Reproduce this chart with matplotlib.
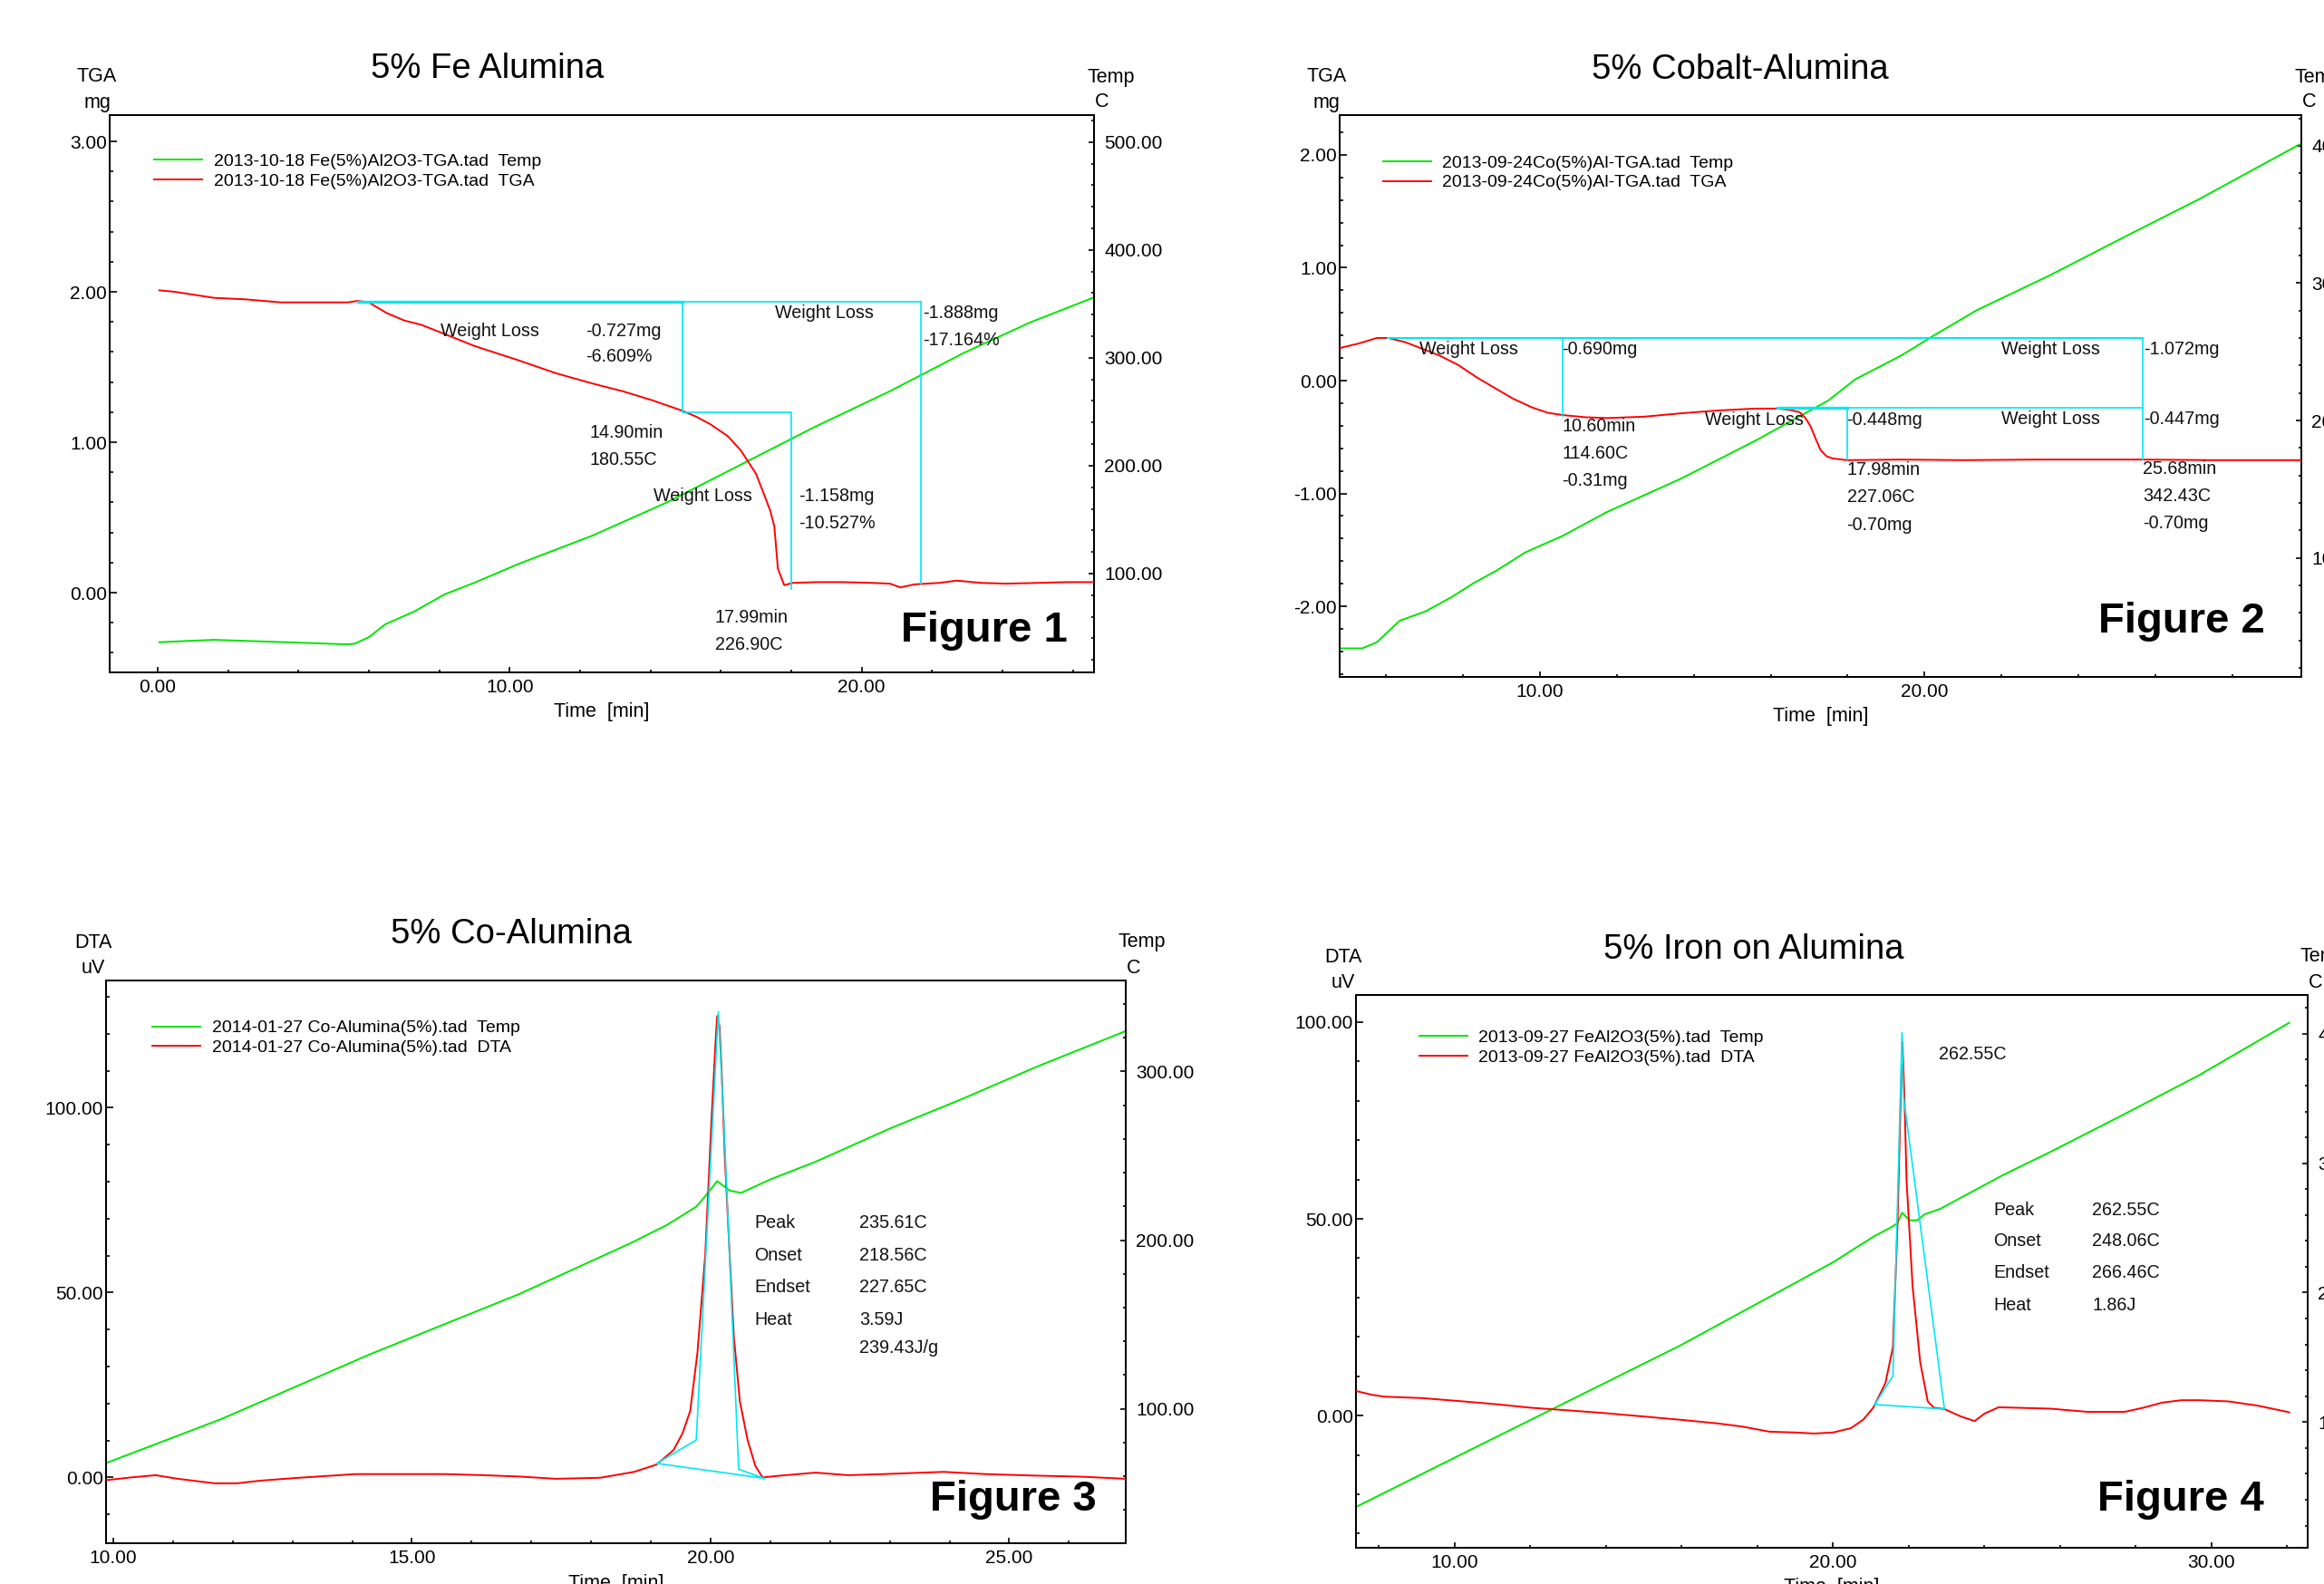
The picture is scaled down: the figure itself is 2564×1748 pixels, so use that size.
import matplotlib
matplotlib.use("Agg")
import matplotlib.pyplot as plt
from matplotlib.ticker import FixedLocator, MultipleLocator, FormatStrFormatter

plt.rcParams['font.family'] = ['Liberation Sans', 'DejaVu Sans']

W, H = 2564, 1748
GREEN = '#00e600'
RED = '#ff0000'
CYAN = '#00e8f0'
TXT = '#111111'

# ---------------- Panel 1 : 5% Fe Alumina (TGA) ----------------
p1_tga_t = [0.05, 0.5, 1.6, 2.5, 3.5, 4.5, 5.4, 5.7, 6.0, 6.5, 7.0, 7.5, 8.15, 9.0, 10.25,
            11.3, 12.36, 13.2, 14.04, 14.9, 15.3, 15.7, 16.2, 16.57, 17.0, 17.25, 17.41,
            17.52, 17.62, 17.8, 18.05, 18.7, 19.5, 20.3, 20.8, 21.1, 21.5, 22.2, 22.7,
            23.4, 24.1, 25.0, 25.8, 26.6]
p1_tga_mg = [2.01, 2.00, 1.96, 1.95, 1.93, 1.93, 1.93, 1.94, 1.93, 1.86, 1.81, 1.78, 1.72,
             1.64, 1.545, 1.46, 1.39, 1.34, 1.28, 1.21, 1.17, 1.12, 1.04, 0.945, 0.79,
             0.64, 0.54, 0.44, 0.16, 0.05, 0.065, 0.07, 0.07, 0.065, 0.06, 0.035, 0.055,
             0.065, 0.08, 0.065, 0.06, 0.065, 0.07, 0.07]
p1_temp_t = [0.05, 1.6, 3.5, 5.4, 5.6, 6.0, 6.47, 7.3, 8.15, 9.0, 10.25, 12.36, 14.47,
             16.57, 18.67, 20.8, 22.9, 24.8, 26.6]
p1_temp_c = [36.4, 38.6, 36.5, 34.4, 35.0, 41.0, 53.0, 65.0, 80.7, 91.5, 108.9, 135.3,
             166.0, 201.0, 236.0, 269.0, 304.5, 333.0, 356.0]
p1_steps_t = [5.7, 14.9, 18.0, 21.68]       # analysis step times
p1_steps_mg = [1.935, 1.20, 0.024, 0.06]    # analysis levels

# ---------------- Panel 2 : 5% Cobalt-Alumina (TGA) ----------------
p2_tga_t = [4.79, 4.86, 5.3, 5.76, 6.05, 6.5, 6.91, 7.4, 7.87, 8.35, 8.85, 9.3, 9.8, 10.2,
            10.6, 11.2, 11.75, 12.7, 13.7, 14.62, 15.6, 16.17, 16.5, 16.75, 16.9, 17.04,
            17.15, 17.3, 17.45, 17.61, 17.98, 19.4, 21.0, 22.9, 25.7, 27.5, 29.8]
p2_tga_mg = [0.285, 0.294, 0.33, 0.378, 0.378, 0.34, 0.286, 0.22, 0.139, 0.03, -0.071,
             -0.16, -0.239, -0.285, -0.306, -0.325, -0.332, -0.32, -0.289, -0.265, -0.248,
             -0.248, -0.26, -0.28, -0.33, -0.407, -0.50, -0.617, -0.67, -0.69, -0.705,
             -0.70, -0.705, -0.70, -0.70, -0.705, -0.705]
p2_temp_t = [4.79, 5.38, 5.76, 6.35, 7.02, 7.7, 8.28, 8.85, 9.62, 10.59, 11.75, 13.67,
             15.6, 17.5, 18.2, 19.4, 20.2, 21.35, 23.28, 25.2, 27.15, 29.75]
p2_temp_c = [34.1, 34.1, 38.6, 54.2, 61.0, 71.4, 81.7, 90.4, 104.0, 116.0, 133.5, 157.7,
             185.3, 214.6, 230.0, 247.4, 261.2, 280.2, 306.0, 333.7, 361.3, 401.0]
p2_steps_t = [6.05, 10.6, 16.17, 17.98, 25.68]
p2_steps_mg = [0.378, -0.315, -0.239, -0.70]

# ---------------- Panel 3 : 5% Co-Alumina (DTA) ----------------
p3_dta_t = [9.88, 10.3, 10.71, 11.08, 11.7, 12.07, 12.45, 13.06, 14.06, 15.55, 16.2, 16.79,
            17.41, 18.15, 18.72, 19.1, 19.38, 19.53, 19.66, 19.78, 19.91, 20.01, 20.08,
            20.11, 20.15, 20.19, 20.24, 20.32, 20.39, 20.49, 20.62, 20.75, 20.87, 21.15,
            21.76, 22.3, 22.9, 23.9, 24.6, 25.4, 26.2, 26.95]
p3_dta_uv = [-0.75, 0.0, 0.6, -0.37, -1.6, -1.6, -0.9, -0.15, 0.9, 0.9, 0.6, 0.24, -0.37,
             -0.1, 1.5, 3.5, 7.4, 11.9, 18.0, 33.7, 60.0, 95.0, 116.9, 124.8, 122.0, 108.0,
             86.2, 60.0, 38.0, 20.6, 10.1, 3.1, 0.0, 0.45, 1.3, 0.6, 0.9, 1.5, 0.9, 0.5,
             0.2, -0.37]
p3_temp_t = [9.9, 11.82, 14.3, 16.79, 18.65, 19.27, 19.76, 19.94, 20.11, 20.32, 20.51,
             21.0, 21.76, 22.99, 24.23, 25.47, 26.95]
p3_temp_c = [68.0, 94.0, 132.3, 167.9, 198.0, 209.0, 219.8, 227.3, 235.0, 229.4, 228.0,
             236.0, 246.5, 266.0, 284.0, 303.0, 324.0]
p3_peak_t = [19.1, 19.76, 20.13, 20.22, 20.47, 20.9, 19.1]
p3_peak_uv = [3.8, 10.1, 126.0, 97.0, 2.2, -0.25, 3.8]
p3_labels = ['Peak', 'Onset', 'Endset', 'Heat', '']
p3_values = ['235.61C', '218.56C', '227.65C', '3.59J', '239.43J/g']

# ---------------- Panel 4 : 5% Iron on Alumina (DTA) ----------------
p4_dta_t = [7.41, 7.8, 8.14, 9.12, 10.1, 11.08, 12.0, 13.03, 14.0, 14.99, 16.0, 16.95,
            17.6, 18.32, 19.0, 19.5, 20.0, 20.47, 20.8, 21.06, 21.38, 21.58, 21.7, 21.78,
            21.83, 21.88, 21.94, 22.1, 22.3, 22.5, 22.66, 22.94, 23.38, 23.74, 24.0,
            24.37, 24.8, 25.75, 26.73, 27.7, 28.2, 28.7, 29.2, 29.7, 30.45, 31.23, 32.0,
            32.05]
p4_dta_uv = [6.2, 5.3, 4.8, 4.45, 3.7, 2.9, 2.0, 1.3, 0.6, -0.24, -1.1, -2.0, -2.8, -4.1,
             -4.3, -4.57, -4.3, -3.2, -1.0, 2.0, 8.2, 17.4, 48.2, 78.8, 95.0, 82.7, 59.7,
             32.8, 13.6, 3.6, 2.0, 1.66, -0.26, -1.4, 0.5, 2.1, 2.0, 1.75, 0.94, 0.94,
             2.0, 3.3, 3.9, 3.9, 3.6, 2.5, 0.94, 0.8]
p4_temp_t = [7.41, 10.1, 12.55, 15.98, 20.0, 21.06, 21.5, 21.7, 21.82, 22.02, 22.22, 22.42,
             22.82, 24.49, 25.77, 27.7, 29.67, 32.05]
p4_temp_c = [34.7, 74.0, 109.6, 159.5, 223.5, 243.2, 250.0, 253.6, 261.8, 255.9, 255.9,
             260.6, 264.6, 290.9, 309.2, 338.0, 368.0, 408.5]
p4_peak_t = [21.1, 21.58, 21.82, 21.86, 22.94, 21.1]
p4_peak_uv = [2.8, 10.1, 97.3, 81.1, 1.66, 2.8]
p4_labels = ['Peak', 'Onset', 'Endset', 'Heat']
p4_values = ['262.55C', '248.06C', '266.46C', '1.86J']

fig = plt.figure(figsize=(W / 100, H / 100), dpi=100)
fig.patch.set_facecolor('white')


def fx(x):
    return x / W


def fy(y):
    return 1 - y / H


def make_panel(box, xlim, ylim, tlim, xt, xminor, yt, yminor, tt, tminor):
    left, top, right, bottom = box
    ax2 = fig.add_axes([fx(left), fy(bottom), (right - left) / W, (bottom - top) / H])
    ax = fig.add_axes([fx(left), fy(bottom), (right - left) / W, (bottom - top) / H],
                      sharex=None)
    ax.patch.set_visible(False)
    ax.set_zorder(2)
    ax2.set_zorder(1)
    ax.set_xlim(*xlim)
    ax2.set_xlim(*xlim)
    ax.set_ylim(*ylim)
    ax2.set_ylim(*tlim)
    ax.xaxis.set_major_locator(FixedLocator(xt))
    ax.xaxis.set_minor_locator(MultipleLocator(xminor))
    ax.yaxis.set_major_locator(FixedLocator(yt))
    ax.yaxis.set_minor_locator(MultipleLocator(yminor))
    ax2.yaxis.set_major_locator(FixedLocator(tt))
    ax2.yaxis.set_minor_locator(MultipleLocator(tminor))
    ax2.yaxis.tick_right()
    ax2.xaxis.set_visible(False)
    for a in (ax, ax2):
        for s in a.spines.values():
            s.set_linewidth(1.4)
            s.set_color('black')
    ax.xaxis.set_major_formatter(FormatStrFormatter('%.2f'))
    ax.yaxis.set_major_formatter(FormatStrFormatter('%.2f'))
    ax2.yaxis.set_major_formatter(FormatStrFormatter('%.2f'))
    ax.tick_params(axis='x', which='major', direction='in', length=4.5, width=1.2,
                   labelsize=15, pad=5, top=False)
    ax.tick_params(axis='x', which='minor', direction='in', length=2.3, width=1.2, top=False)
    ax.tick_params(axis='y', which='major', direction='in', length=5.8, width=1.2,
                   labelsize=15, pad=2, right=False)
    ax.tick_params(axis='y', which='minor', direction='in', length=2.8, width=1.2, right=False)
    ax2.tick_params(axis='y', which='major', direction='in', length=4.5, width=1.2,
                    labelsize=15, pad=8, left=False)
    ax2.tick_params(axis='y', which='minor', direction='in', length=2.3, width=1.2, left=False)
    return ax, ax2


def headers(box, title, title_xy, ylab, yunit, xlab_y, fig_xy, fig_label):
    left, top, right, bottom = box
    fig.text(fx(title_xy[0]), fy(title_xy[1]), title, ha='center', va='center', fontsize=27.5)
    fig.text(fx(left - 14), fy(top - 42), ylab, ha='center', va='center', fontsize=15.5)
    fig.text(fx(left - 14), fy(top - 14), yunit, ha='center', va='center', fontsize=15.5)
    fig.text(fx(right - 8), fy(top - 42), 'Temp', ha='left', va='center', fontsize=15.5)
    fig.text(fx(right + 1), fy(top - 14), 'C', ha='left', va='center', fontsize=15.5)
    fig.text(fx((left + right) / 2), fy(xlab_y), 'Time  [min]', ha='center', va='center',
             fontsize=15.5)
    fig.text(fx(fig_xy[0]), fy(fig_xy[1]), fig_label, ha='center', va='center',
             fontsize=34, fontweight='bold')


def legend(ax, lines, labels, x, y):
    ax.legend(lines, labels, loc='upper left', bbox_to_anchor=(fx(x), fy(y - 11)),
              bbox_transform=fig.transFigure, frameon=False, borderpad=0, borderaxespad=0,
              handlelength=2.73, handletextpad=0.64, labelspacing=0.22, fontsize=14)


def txt(ax, x, y, s):
    ax.text(x, y, s, ha='left', va='center', fontsize=14.2, color=TXT, zorder=5)


LW = 1.4

# ---------- Panel 1 ----------
box1 = (121, 127, 1207, 742)
ax, ax2 = make_panel(box1, (-1.36, 26.6), (-0.53, 3.175), (8.4, 525),
                     [0, 10, 20], 2, [0, 1, 2, 3], 0.2, [100, 200, 300, 400, 500], 20)
lg, = ax2.plot(p1_temp_t, p1_temp_c, color=GREEN, lw=LW)
lr, = ax.plot(p1_tga_t, p1_tga_mg, color=RED, lw=LW, zorder=3)
s_t, s_m = p1_steps_t, p1_steps_mg
ax.plot([s_t[0], s_t[1]], [s_m[0], s_m[0]], color=CYAN, lw=2.4, zorder=4)
ax.plot([s_t[1], s_t[3]], [s_m[0], s_m[0]], color=CYAN, lw=1.2, zorder=4)
ax.plot([s_t[1], s_t[1], s_t[2], s_t[2]], [s_m[0], s_m[1], s_m[1], s_m[2]], color=CYAN,
        lw=1.2, zorder=4)
ax.plot([s_t[3], s_t[3]], [s_m[0], s_m[3]], color=CYAN, lw=1.2, zorder=4)
legend(ax, [lg, lr], ['2013-10-18 Fe(5%)Al2O3-TGA.tad  Temp',
                      '2013-10-18 Fe(5%)Al2O3-TGA.tad  TGA'], 170, 180.4)
txt(ax, 8.04, 1.74, 'Weight Loss')
txt(ax, 12.15, 1.74, '-0.727mg')
txt(ax, 12.15, 1.57, '-6.609%')
txt(ax, 17.54, 1.86, 'Weight Loss')
txt(ax, 21.74, 1.86, '-1.888mg')
txt(ax, 21.74, 1.68, '-17.164%')
txt(ax, 12.27, 1.066, '14.90min')
txt(ax, 12.27, 0.885, '180.55C')
txt(ax, 14.08, 0.644, 'Weight Loss')
txt(ax, 18.2, 0.644, '-1.158mg')
txt(ax, 18.2, 0.464, '-10.527%')
txt(ax, 15.83, -0.166, '17.99min')
txt(ax, 15.83, -0.345, '226.90C')
headers(box1, '5% Fe Alumina', (538, 76), 'TGA', 'mg', 785, (1086, 696), 'Figure 1')

# ---------- Panel 2 ----------
box2 = (1478, 127, 2539, 747)
ax, ax2 = make_panel(box2, (4.79, 29.8), (-2.626, 2.353), (13.3, 422.4),
                     [10, 20], 2, [-2, -1, 0, 1, 2], 0.2, [100, 200, 300, 400], 20)
lg, = ax2.plot(p2_temp_t, p2_temp_c, color=GREEN, lw=LW)
lr, = ax.plot(p2_tga_t, p2_tga_mg, color=RED, lw=LW, zorder=3)
s_t, s_m = p2_steps_t, p2_steps_mg
ax.plot([s_t[0], s_t[4]], [s_m[0], s_m[0]], color=CYAN, lw=1.5, zorder=4)
ax.plot([s_t[1], s_t[1]], [s_m[0], s_m[1]], color=CYAN, lw=1.2, zorder=4)
ax.plot([s_t[4], s_t[4]], [s_m[0], s_m[3]], color=CYAN, lw=1.2, zorder=4)
ax.plot([s_t[2], s_t[3]], [s_m[2], s_m[2]], color=CYAN, lw=2.4, zorder=4)
ax.plot([s_t[3], s_t[4]], [s_m[2], s_m[2]], color=CYAN, lw=1.2, zorder=4)
ax.plot([s_t[3], s_t[3]], [s_m[2], s_m[3]], color=CYAN, lw=1.2, zorder=4)
legend(ax, [lg, lr], ['2013-09-24Co(5%)Al-TGA.tad  Temp',
                      '2013-09-24Co(5%)Al-TGA.tad  TGA'], 1525.7, 182)
txt(ax, 6.86, 0.277, 'Weight Loss')
txt(ax, 10.57, 0.277, '-0.690mg')
txt(ax, 22.0, 0.277, 'Weight Loss')
txt(ax, 25.7, 0.277, '-1.072mg')
txt(ax, 10.57, -0.407, '10.60min')
txt(ax, 10.57, -0.647, '114.60C')
txt(ax, 10.57, -0.89, '-0.31mg')
txt(ax, 14.3, -0.352, 'Weight Loss')
txt(ax, 17.98, -0.352, '-0.448mg')
txt(ax, 22.0, -0.34, 'Weight Loss')
txt(ax, 25.7, -0.34, '-0.447mg')
txt(ax, 17.98, -0.793, '17.98min')
txt(ax, 17.98, -1.03, '227.06C')
txt(ax, 17.98, -1.277, '-0.70mg')
txt(ax, 25.68, -0.78, '25.68min')
txt(ax, 25.68, -1.02, '342.43C')
txt(ax, 25.68, -1.265, '-0.70mg')
headers(box2, '5% Cobalt-Alumina', (1920, 77), 'TGA', 'mg', 790, (2407, 686), 'Figure 2')

# ---------- Panel 3 ----------
box3 = (117, 1082, 1242, 1703)
ax, ax2 = make_panel(box3, (9.88, 26.95), (-17.8, 134.4), (20.2, 354),
                     [10, 15, 20, 25], 1, [0, 50, 100], 10, [100, 200, 300], 20)
lg, = ax2.plot(p3_temp_t, p3_temp_c, color=GREEN, lw=LW)
lr, = ax.plot(p3_dta_t, p3_dta_uv, color=RED, lw=LW, zorder=3)
ax.plot(p3_peak_t, p3_peak_uv, color=CYAN, lw=1.2, zorder=4)
legend(ax, [lg, lr], ['2014-01-27 Co-Alumina(5%).tad  Temp',
                      '2014-01-27 Co-Alumina(5%).tad  DTA'], 168, 1136.8)
p3_rows = [68.9, 60.1, 51.4, 42.6, 34.9]
for lab, val, yy in zip(p3_labels, p3_values, p3_rows):
    if lab:
        txt(ax, 20.73, yy, lab)
    txt(ax, 22.49, yy, val)
headers(box3, '5% Co-Alumina', (564, 1031), 'DTA', 'uV', 1748, (1118, 1655), 'Figure 3')

# ---------- Panel 4 ----------
box4 = (1496, 1098, 2546, 1708)
ax, ax2 = make_panel(box4, (7.39, 32.54), (-33.6, 106.9), (2.9, 430),
                     [10, 20, 30], 2, [0, 50, 100], 10, [100, 200, 300, 400], 20)
lg, = ax2.plot(p4_temp_t, p4_temp_c, color=GREEN, lw=LW)
lr, = ax.plot(p4_dta_t, p4_dta_uv, color=RED, lw=LW, zorder=3)
ax.plot(p4_peak_t, p4_peak_uv, color=CYAN, lw=1.2, zorder=4)
legend(ax, [lg, lr], ['2013-09-27 FeAl2O3(5%).tad  Temp',
                      '2013-09-27 FeAl2O3(5%).tad  DTA'], 1565.7, 1147.5)
txt(ax, 22.78, 91.9, p4_values[0])
p4_rows = [52.3, 44.3, 36.3, 27.9]
for lab, val, yy in zip(p4_labels, p4_values, p4_rows):
    txt(ax, 24.24, yy, lab)
    txt(ax, 26.85, yy, val)
headers(box4, '5% Iron on Alumina', (1934.5, 1048), 'DTA', 'uV', 1751, (2406, 1655), 'Figure 4')

fig.savefig('out.png', dpi=100, facecolor='white')
